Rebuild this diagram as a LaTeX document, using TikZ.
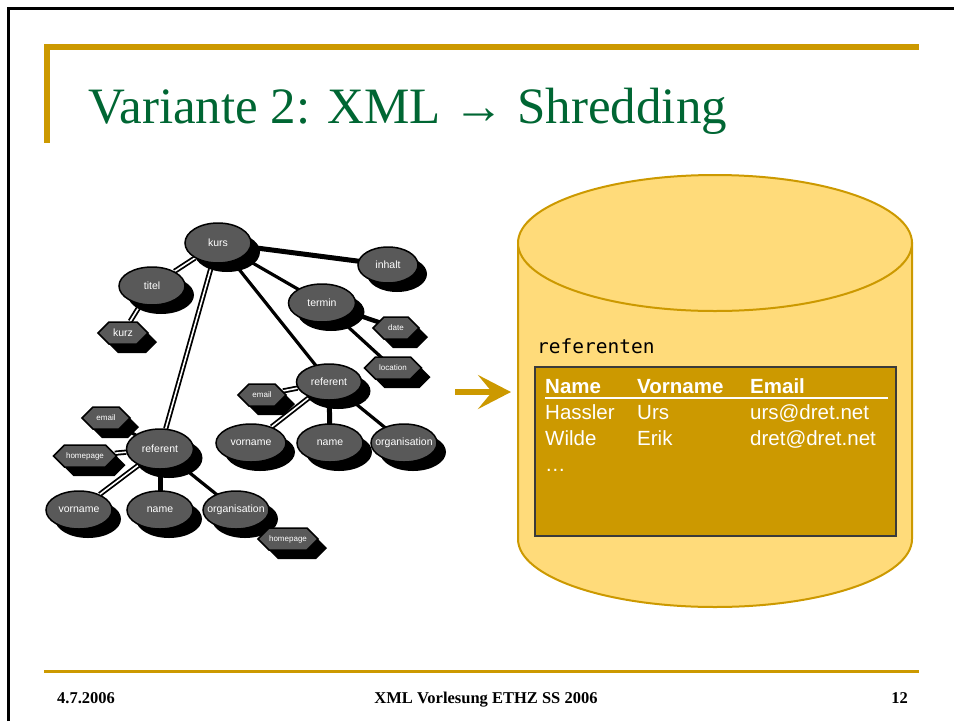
\documentclass[tikz,border=0pt]{standalone}
\usepackage{fontspec}
\setmainfont{Liberation Serif}
\setsansfont{Liberation Sans}
\newfontfamily\monofont{DejaVu Sans Mono}
\usetikzlibrary{shapes.geometric,shapes.symbols,shadows,arrows.meta,backgrounds}

\definecolor{gold}{HTML}{CC9900}
\definecolor{goldlight}{HTML}{FFDB7A}
\definecolor{titlegreen}{HTML}{006633}
\definecolor{nodegray}{HTML}{595959}
\definecolor{tableedge}{HTML}{3A3A3A}

\tikzset{
  shade/.style={drop shadow={shadow xshift=9pt, shadow yshift=-9pt, opacity=1, fill=black}},
  ell/.style={ellipse, draw=black, line width=1.5pt, fill=nodegray, inner sep=0pt,
    minimum width=66pt, minimum height=38pt, text=white,
    font=\sffamily\fontsize{10.5}{12}\selectfont, shade},
  hexa/.style={signal, signal to=east and west, signal pointer angle=90,
    draw=black, line width=1.5pt, fill=nodegray, inner sep=0pt,
    minimum height=22pt, text=white,
    font=\sffamily\fontsize{8}{9}\selectfont, shade},
  dbl/.style={draw=black, line width=1.8pt, double=white, double distance=1.6pt},
  solid3/.style={draw=black, line width=3.2pt},
  solid4/.style={draw=black, line width=4.5pt},
  solid5/.style={draw=black, line width=5pt},
  cell/.style={anchor=base west, text=white, inner sep=0pt,
    font=\sffamily\fontsize{20.5}{24}\selectfont},
  headcell/.style={cell, font=\sffamily\bfseries\fontsize{20.5}{24}\selectfont},
  foot/.style={inner sep=0pt, font=\bfseries\fontsize{16.5}{19}\selectfont}
}

\begin{document}
\begin{tikzpicture}[x=1pt, y=-1pt]
\useasboundingbox (0,0) rectangle (954,721);

% slide frame and gold rules
\draw[line width=2.7pt] (8.5,721) -- (8.5,8.5) -- (954,8.5);
\fill[gold] (44,44) rectangle (919,50);
\fill[gold] (44,44) rectangle (50,143);
\fill[gold] (44,670) rectangle (919,673);

% title
\node[anchor=base west, inner sep=0pt, text=titlegreen,
  font=\fontsize{51}{60}\selectfont] (title) at (88,123)
  {Variante 2: XML → Shredding};

% footer
\node[foot, anchor=base west] (fdate) at (57,703) {4.7.2006};
\node[foot, anchor=base] (fcourse) at (486,703) {XML Vorlesung ETHZ SS 2006};
\node[foot, anchor=base east] (fpage) at (908,703) {12};

% XML tree
\node[ell, minimum height=40pt] (kurs) at (218,243) {kurs};
\node[ell] (titel) at (152,286) {titel};
\node[hexa, minimum width=50pt, font=\sffamily\fontsize{10.5}{12}\selectfont] (kurz) at (123,333) {kurz};
\node[ell, minimum width=60pt, minimum height=36pt] (inhalt) at (388,265) {inhalt};
\node[ell, minimum width=67pt] (termin) at (322,303) {termin};
\node[hexa, minimum width=46pt] (date) at (396,328) {date};
\node[hexa, minimum width=57pt] (location) at (393,368) {location};

\node[ell, minimum width=65pt, minimum height=36pt] (refR) at (329,382) {referent};
\node[hexa, minimum width=48pt] (emailR) at (262,395) {email};
\node[ell, minimum width=70pt] (vornameR) at (251,443) {vorname};
\node[ell] (nameR) at (330,443) {name};
\node[ell] (orgR) at (404,443) {\makebox[0pt]{organisation}};

\node[ell, minimum width=67pt, minimum height=40pt] (refL) at (160,449) {referent};
\node[hexa, minimum width=48pt] (emailL) at (106,418) {email};
\node[hexa, minimum width=63pt] (homeL) at (85,456) {homepage};
\node[ell] (vornameL) at (79,510) {vorname};
\node[ell] (nameL) at (160,510) {name};
\node[ell] (orgL) at (236,510) {\makebox[0pt]{organisation}};
\node[hexa, minimum width=60pt] (homeO) at (288,539) {homepage};

% tree edges, behind the nodes
\begin{scope}[on background layer]
  \draw[dbl] (kurs) -- (titel);
  \draw[dbl] (titel) -- (kurz);
  \draw[solid5] (kurs.center) -- (inhalt.center);
  \draw[solid3] (kurs.center) -- (termin.center);
  \draw[solid3] (kurs.center) -- (refR.center);
  \draw[dbl] (kurs) -- (refL);
  \draw[solid4] (termin.center) -- (date.center);
  \draw[solid3] (termin.center) -- (location.center);
  \draw[dbl] (refR) -- (emailR);
  \draw[dbl] (refR) -- (vornameR);
  \draw[solid5] (refR.center) -- (nameR.center);
  \draw[solid3] (refR.center) -- (orgR.center);
  \draw[solid3] (refL.center) -- (emailL.center);
  \draw[dbl] (refL) -- (homeL);
  \draw[dbl] (refL) -- (vornameL);
  \draw[solid5] (refL.center) -- (nameL.center);
  \draw[solid3] (refL.center) -- (orgL.center);
  \draw[solid3] (orgL.center) -- (homeO.center);
\end{scope}

% arrow towards the database
\coordinate (atail) at (455,392);
\coordinate (atip) at (511,392);
\draw[gold, line width=6pt, -{Stealth[length=33pt, width=34pt, inset=14pt]}] (atail) -- (atip);

% database cylinder
\path[fill=goldlight, draw=gold, line width=2pt]
  (518,243) -- (518,539)
  .. controls (518,576.6) and (606.2,607) .. (715,607)
  .. controls (823.8,607) and (912,576.6) .. (912,539)
  -- (912,243) -- cycle;
\draw[fill=goldlight, draw=gold, line width=2pt] (715,243) ellipse [x radius=197, y radius=68];

% table
\node[anchor=base west, inner sep=0pt, font=\monofont\fontsize{19.5}{22}\selectfont] (tname) at (537,353) {referenten};
\draw[fill=gold, draw=tableedge, line width=1.5pt] (535,367) rectangle (896,536);
\node[headcell] (hname) at (545,393) {Name};
\node[headcell] (hvor) at (637,393) {Vorname};
\node[headcell] (hmail) at (750,393) {Email};
\draw[white, line width=2.5pt] (545,398) -- (888,398);
\node[cell] (r1a) at (545,419) {Hassler};
\node[cell] (r1b) at (637,419) {Urs};
\node[cell] (r1c) at (750,419) {urs@dret.net};
\node[cell] (r2a) at (545,445) {Wilde};
\node[cell] (r2b) at (637,445) {Erik};
\node[cell] (r2c) at (750,445) {dret@dret.net};
\node[cell] (r3a) at (545,471) {…};
\end{tikzpicture}
\end{document}
